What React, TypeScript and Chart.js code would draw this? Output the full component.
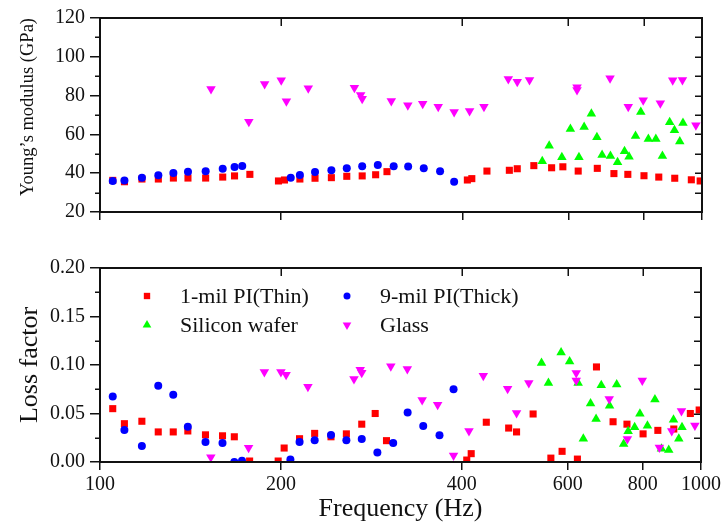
import React, { useEffect, useRef } from 'react';
import { Chart, registerables } from 'chart.js';
import * as helpers from 'chart.js/helpers';

Chart.register(...registerables);

const FONT = "'Liberation Serif', 'Times New Roman', serif";

// ---------- data ----------
const thinFreq = [105.0, 109.8, 117.4, 125.0, 132.4, 140.0, 149.8, 159.9, 167.3, 177.4, 197.9, 202.5, 214.8, 227.6, 242.3, 257.0, 272.6, 287.0, 299.7, 407.6, 414.6, 439.3, 478.6, 493.3, 525.6, 562.6, 587.3, 622.8, 670.0, 714.0, 753.0, 801.0, 847.6, 901.0, 960.0, 993.0];
const thinModulus = [36.3, 35.6, 37.0, 37.0, 37.5, 37.5, 37.5, 38.0, 38.6, 39.4, 36.0, 36.5, 37.0, 37.4, 37.7, 38.4, 38.6, 39.2, 40.8, 36.5, 37.2, 41.1, 41.5, 42.3, 43.9, 42.8, 43.3, 41.1, 42.5, 39.8, 39.4, 38.7, 38.0, 37.4, 36.6, 36.0];
const thinLoss = [0.055, 0.0395, 0.042, 0.031, 0.031, 0.032, 0.028, 0.027, 0.026, 0.001, 0.001, 0.0144, 0.024, 0.0295, 0.026, 0.029, 0.039, 0.050, 0.022, 0.002, 0.0086, 0.041, 0.035, 0.031, 0.0495, 0.004, 0.011, 0.003, 0.098, 0.0415, 0.039, 0.029, 0.0326, 0.034, 0.050, 0.0536];

const thickFreq = [105.0, 109.8, 117.4, 125.0, 132.4, 140.0, 149.8, 159.9, 167.3, 172.3, 207.4, 214.8, 227.6, 242.3, 257.0, 272.6, 289.4, 307.5, 325.0, 345.0, 367.2, 387.5];
const thickModulus = [36.0, 36.3, 37.7, 38.9, 40.1, 40.8, 41.0, 42.3, 43.2, 43.7, 37.7, 39.1, 40.6, 41.5, 42.5, 43.6, 44.2, 43.6, 43.4, 42.5, 41.0, 35.6];
const thickLoss = [0.0676, 0.033, 0.0165, 0.0787, 0.0694, 0.0364, 0.0206, 0.0196, 0.0, 0.0013, 0.0027, 0.0206, 0.0223, 0.0278, 0.0223, 0.0237, 0.0099, 0.0196, 0.051, 0.037, 0.0275, 0.075];

const siliconFreq = [542.8, 557.4, 585.1, 604.5, 624.6, 637.1, 655.0, 669.0, 682.4, 704.5, 724.0, 743.5, 756.5, 775.5, 791.3, 814.5, 838.2, 859.5, 883.7, 900.0, 918.5, 929.8];
const siliconModulus = [46.1, 54.2, 48.2, 62.8, 48.2, 63.8, 70.7, 58.5, 49.4, 48.9, 45.6, 51.3, 48.5, 59.2, 71.5, 57.6, 57.6, 48.9, 66.2, 62.1, 56.4, 65.9];
const siliconLoss = [0.102, 0.0814, 0.113, 0.1037, 0.0814, 0.024, 0.0604, 0.0443, 0.079, 0.058, 0.080, 0.0186, 0.0316, 0.0357, 0.0498, 0.0374, 0.0645, 0.0137, 0.0124, 0.0436, 0.024, 0.0357];

const glassFreq = [152.9, 176.7, 187.7, 200.0, 204.0, 221.8, 264.6, 271.0, 272.6, 304.7, 324.6, 343.6, 364.6, 387.5, 411.1, 434.3, 476.7, 493.3, 517.0, 620.0, 620.0, 703.5, 754.2, 798.6, 852.6, 894.0, 927.9, 976.9];
const glassModulus = [83.4, 66.5, 86.0, 87.9, 77.1, 83.8, 84.1, 80.3, 78.4, 77.2, 75.0, 75.8, 74.3, 71.5, 72.1, 74.3, 88.6, 87.2, 88.0, 84.3, 82.9, 88.9, 74.3, 77.6, 76.0, 87.9, 88.0, 64.7];
const glassLoss = [0.005, 0.0147, 0.0928, 0.0928, 0.090, 0.0776, 0.0856, 0.095, 0.092, 0.0986, 0.0959, 0.064, 0.059, 0.0068, 0.032, 0.089, 0.0756, 0.0505, 0.0814, 0.0917, 0.084, 0.065, 0.0237, 0.084, 0.015, 0.032, 0.0526, 0.0377];

const seriesLabels = ['1-mil PI(Thin)', '9-mil PI(Thick)', 'Silicon wafer', 'Glass'];

const freqTicks = [100, 200, 400, 600, 800, 1000];
const modulusMinorTicks = [30, 50, 70, 90, 110];
const modulusAllTicks = [30, 40, 50, 60, 70, 80, 90, 100, 110];
const lossMinorTicks = [0.025, 0.075, 0.125, 0.175];
const lossAllTicks = [0.025, 0.05, 0.075, 0.1, 0.125, 0.15, 0.175];

// ---------- helpers ----------
const pts = (xs: number[], ys: number[]) => xs.map((x, i) => ({ x, y: ys[i] }));

const styles = [
  { color: '#ff0000', pointStyle: 'rect', radius: 5, rotation: 0, order: 4 },
  { color: '#0000ff', pointStyle: 'circle', radius: 4, rotation: 0, order: 3 },
  { color: '#00ff00', pointStyle: 'triangle', radius: 5.5, rotation: 0, order: 2 },
  { color: '#ff00ff', pointStyle: 'triangle', radius: 5.5, rotation: 180, order: 1 },
];

function makeDatasets(ys: number[][]) {
  const xs = [thinFreq, thickFreq, siliconFreq, glassFreq];
  return xs.map((x, i) => ({
    label: seriesLabels[i],
    data: pts(x, ys[i]),
    pointStyle: styles[i].pointStyle,
    pointRadius: styles[i].radius,
    pointRotation: styles[i].rotation,
    backgroundColor: styles[i].color,
    borderColor: styles[i].color,
    pointBorderWidth: 0,
    borderWidth: 0,
    showLine: false,
    order: styles[i].order,
  }));
}

const framePlugin = {
  id: 'frame',
  afterDraw(chart: any, _args: any, opts: any) {
    const { ctx, chartArea } = chart;
    const { left, right, top, bottom } = chartArea;
    const x = chart.scales.x;
    const y = chart.scales.y;
    ctx.save();
    ctx.strokeStyle = '#111';
    ctx.lineWidth = 1.5;
    (opts.minorY || []).forEach((v: number) => {
      const py = Math.round(y.getPixelForValue(v)) + 0.25;
      ctx.beginPath();
      ctx.moveTo(left - 5, py);
      ctx.lineTo(left, py);
      ctx.stroke();
    });
    (opts.rightY || []).forEach((v: number) => {
      const py = Math.round(y.getPixelForValue(v)) + 0.25;
      ctx.beginPath();
      ctx.moveTo(right, py);
      ctx.lineTo(right - 7, py);
      ctx.stroke();
    });
    (opts.topX || []).forEach((v: number) => {
      const px = Math.round(x.getPixelForValue(v)) + 0.25;
      ctx.beginPath();
      ctx.moveTo(px, top);
      ctx.lineTo(px, top + 8);
      ctx.stroke();
    });
    ctx.lineWidth = 2;
    ctx.strokeRect(left, top, right - left, bottom - top);
    ctx.restore();
  },
};

const legendPlugin = {
  id: 'cornerLegend',
  afterDraw(chart: any, _args: any, opts: any) {
    if (!opts || !opts.display) return;
    const { ctx, chartArea } = chart;
    const ds = chart.data.datasets;
    ctx.save();
    ctx.font = `22px ${FONT}`;
    ctx.fillStyle = '#111';
    ctx.textBaseline = 'middle';
    ctx.textAlign = 'left';
    ds.forEach((d: any, i: number) => {
      const col = i % 2;
      const row = Math.floor(i / 2);
      const mx = chartArea.left + opts.markerX[col];
      const my = chartArea.top + opts.rowY[row];
      ctx.fillStyle = d.backgroundColor;
      ctx.strokeStyle = d.backgroundColor;
      helpers.drawPoint(ctx, {
        pointStyle: d.pointStyle,
        radius: d.pointRadius - 0.5,
        rotation: d.pointRotation,
        borderWidth: 0,
      }, mx, my);
      ctx.fillStyle = '#111';
      ctx.fillText(d.label, mx + opts.textGap, my + 1);
    });
    ctx.restore();
  },
};

function xScale(showLabels: boolean, title?: string) {
  return {
    type: 'logarithmic',
    min: 100,
    max: 1000,
    afterBuildTicks: (s: any) => {
      s.ticks = freqTicks.map((v) => ({ value: v }));
    },
    afterFit: (s: any) => {
      s.height = showLabels ? 64 : 28;
    },
    ticks: {
      display: showLabels,
      autoSkip: false,
      maxRotation: 0,
      color: '#111',
      padding: 3,
      font: { family: FONT, size: 20 },
      callback: (v: any) => String(v),
    },
    grid: {
      display: true,
      drawOnChartArea: false,
      drawTicks: true,
      tickLength: 8,
      color: '#111',
      lineWidth: 1.5,
    },
    border: { display: true, color: '#111', width: 2 },
    title: title
      ? {
          display: true,
          text: title,
          color: '#111',
          font: { family: FONT, size: 26 },
          padding: { top: 0, bottom: 1 },
        }
      : { display: false },
  };
}

function ChartPanel(props: { height: number; top: number; config: any }) {
  const ref = useRef<HTMLCanvasElement>(null);
  useEffect(() => {
    if (!ref.current) return;
    const chart = new Chart(ref.current, props.config);
    return () => chart.destroy();
  }, []);
  return (
    <canvas
      ref={ref}
      width={724}
      height={props.height}
      style={{ position: 'absolute', left: 0, top: props.top, width: 724, height: props.height }}
    />
  );
}

const topConfig = {
  type: 'scatter',
  data: { datasets: makeDatasets([thinModulus, thickModulus, siliconModulus, glassModulus]) },
  options: {
    responsive: false,
    animation: false,
    devicePixelRatio: 1,
    layout: { padding: { top: 18, right: 22, left: 0, bottom: 0 } },
    scales: {
      x: xScale(false),
      y: {
        type: 'linear',
        min: 20,
        max: 120,
        afterFit: (s: any) => {
          s.width = 100;
        },
        ticks: {
          stepSize: 20,
          color: '#111',
          padding: 5,
          font: { family: FONT, size: 20 },
        },
        grid: {
          display: true,
          drawOnChartArea: false,
          drawTicks: true,
          tickLength: 10,
          color: '#111',
          lineWidth: 1.5,
        },
        border: { display: true, color: '#111', width: 2 },
        title: {
          display: true,
          text: 'Young\u2019s modulus (GPa)',
          align: 'end',
          color: '#111',
          font: { family: FONT, size: 18.5 },
          padding: { top: 17, bottom: 0 },
        },
      },
    },
    plugins: {
      legend: { display: false },
      tooltip: { enabled: false },
      frame: { minorY: modulusMinorTicks, rightY: modulusAllTicks, topX: [200, 400, 600, 800] },
    },
  },
  plugins: [framePlugin],
};

const bottomConfig = {
  type: 'scatter',
  data: { datasets: makeDatasets([thinLoss, thickLoss, siliconLoss, glassLoss]) },
  options: {
    responsive: false,
    animation: false,
    devicePixelRatio: 1,
    layout: { padding: { top: 28, right: 22, left: 0, bottom: 0 } },
    scales: {
      x: xScale(true, 'Frequency (Hz)'),
      y: {
        type: 'linear',
        min: 0,
        max: 0.2,
        afterFit: (s: any) => {
          s.width = 100;
        },
        ticks: {
          stepSize: 0.05,
          color: '#111',
          padding: 5,
          font: { family: FONT, size: 20 },
          callback: (v: any) => Number(v).toFixed(2),
        },
        grid: {
          display: true,
          drawOnChartArea: false,
          drawTicks: true,
          tickLength: 10,
          color: '#111',
          lineWidth: 1.5,
        },
        border: { display: true, color: '#111', width: 2 },
        title: {
          display: true,
          text: 'Loss factor',
          align: 'center',
          color: '#111',
          font: { family: FONT, size: 26 },
          padding: { top: 15, bottom: 0 },
        },
      },
    },
    plugins: {
      legend: { display: false },
      tooltip: { enabled: false },
      frame: { minorY: lossMinorTicks, rightY: lossAllTicks, topX: [200, 400, 600, 800] },
      cornerLegend: { display: true, markerX: [47, 247], rowY: [28, 57], textGap: 33 },
    },
  },
  plugins: [framePlugin, legendPlugin],
};

export default function App() {
  return (
    <div style={{ position: 'fixed', left: 0, top: 0, width: 724, height: 526, background: '#fff' }}>
      <ChartPanel height={240} top={0} config={topConfig} />
      <ChartPanel height={286} top={240} config={bottomConfig} />
    </div>
  );
}
